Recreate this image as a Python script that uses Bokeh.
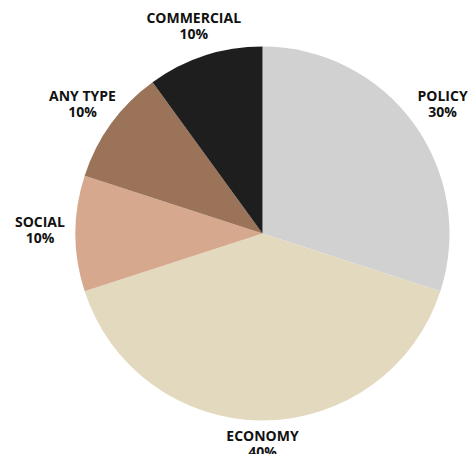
import math
from bokeh.plotting import figure
from bokeh.embed import file_html
from bokeh.resources import INLINE
from bokeh.core.properties import value
from bokeh.models import ColumnDataSource

categories = ["POLICY", "ECONOMY", "SOCIAL", "ANY TYPE", "COMMERCIAL"]
shares = [30, 40, 10, 10, 10]
colors = ["#d1d1d1", "#e3d9bf", "#d6a98e", "#9a7358", "#1e1e1e"]

R = 187
LR = 214
total = sum(shares)
starts, ends, lx, ly, names, pcts = [], [], [], [], [], []
cum = 0
for c, s in zip(categories, shares):
    a0 = math.pi / 2 - 2 * math.pi * cum / total
    cum += s
    a1 = math.pi / 2 - 2 * math.pi * cum / total
    starts.append(a0)
    ends.append(a1)
    mid = (a0 + a1) / 2
    lx.append(LR * 1.04 * math.cos(mid))
    ly.append(LR * math.sin(mid) + 4)
    names.append(c)
    pcts.append(f"{s}%")

src = ColumnDataSource(dict(start=starts, end=ends, color=colors, lx=lx, ly=ly,
                            name=names, pct=pcts))

p = figure(width=475, height=454, output_backend="svg", toolbar_location=None,
           x_range=(-262, 213), y_range=(-221, 233), min_border=0)
p.wedge(x=0, y=0, radius=R, start_angle="start", end_angle="end", direction="clock",
        fill_color="color", line_color=None, source=src)
common = dict(source=src, text_align="center", text_baseline="middle",
              text_font=value("Open Sans"), text_font_style="bold", text_font_size="14px",
              text_color="#111111")
p.text(x="lx", y="ly", text="name", y_offset=-8, **common)
p.text(x="lx", y="ly", text="pct", y_offset=8, **common)
p.axis.visible = False
p.grid.visible = False
p.outline_line_color = None
p.background_fill_color = "white"
p.border_fill_color = "white"

open("out.html", "w").write(file_html(p, INLINE))
